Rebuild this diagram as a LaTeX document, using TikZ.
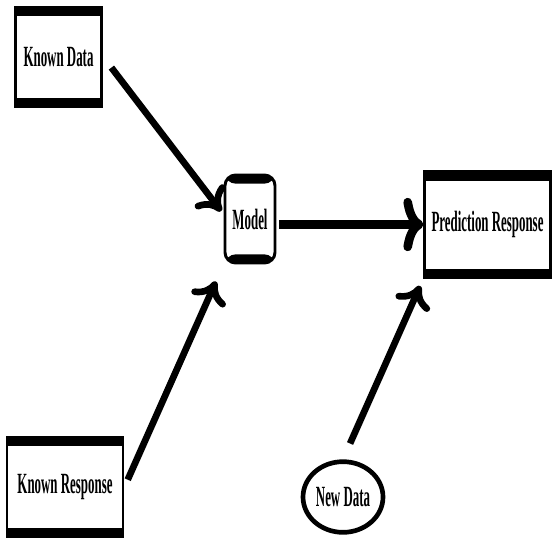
\documentclass[tikz,border=0pt]{standalone}
\usepackage{fontspec}
\setmainfont{Liberation Serif}
\usepackage{graphicx}
\usepackage{tikz}
\usetikzlibrary{arrows.meta,shapes.geometric}

\newcommand{\squeeze}[1]{\scalebox{0.44}[1]{\fontsize{22}{24}\selectfont\bfseries #1}}

\begin{document}
\begin{tikzpicture}[x=0.75pt,y=0.75pt,yscale=-1,xscale=1,
  barbox/.style={draw,line width=2.2pt,inner sep=0pt,
    path picture={
      \fill (path picture bounding box.north west) rectangle ([yshift=-6.5pt]path picture bounding box.north east);
      \fill (path picture bounding box.south west) rectangle ([yshift=6.5pt]path picture bounding box.south east);}},
  roundbox/.style={barbox,rounded corners=8pt},
  bigarrow/.style={line width=5pt,-{To[length=16pt,width=28pt]}}]
\useasboundingbox (0,0) rectangle (555,549);

% Nodes
\node [barbox,minimum width=65pt,minimum height=75pt] (knowndata) at (58.5,57) {\squeeze{Known Data}};
\node [barbox,minimum width=87pt,minimum height=75pt] (knownresp) at (65,487) {\squeeze{Known Response}};
\node [roundbox,minimum width=37.5pt,minimum height=66pt] (model) at (250,219) {\squeeze{Model}};
\node [barbox,minimum width=94pt,minimum height=79pt] (prediction) at (487.5,224.5) {\squeeze{Prediction Response}};
\node [ellipse,draw,line width=3.5pt,minimum width=60pt,minimum height=53pt,inner sep=0pt] (newdata) at (343,497) {\squeeze{New Data}};

%Straight Lines
\draw [bigarrow,shorten <=10pt,shorten >=3pt] (knowndata.east) -- (model.170);
\draw [bigarrow,shorten <=6pt,shorten >=14pt] (knownresp.east) -- (model.south west);
\draw [bigarrow,line width=6.5pt,-{To[length=15pt,width=40pt]},shorten <=2pt] (model.east |- prediction.west) -- (prediction.west);
\draw [bigarrow,shorten <=13pt,shorten >=6pt] (newdata.north) -- (prediction.south west);

\end{tikzpicture}
\end{document}
